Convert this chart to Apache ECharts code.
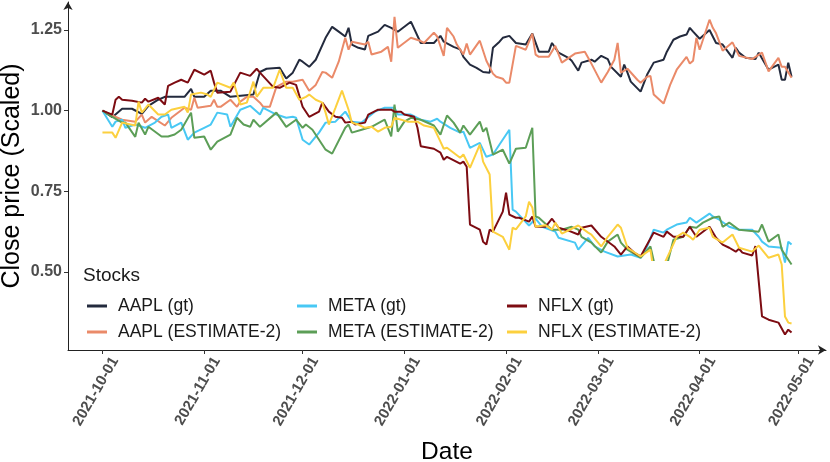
<!DOCTYPE html>
<html>
<head>
<meta charset="utf-8">
<script src="https://cdn.jsdelivr.net/npm/echarts@6/dist/echarts.min.js"></script>
<style>html,body{margin:0;padding:0;background:#fff}#c{width:830px;height:462px}</style>
</head>
<body>
<div id="c"></div>
<script>
const xTicks = ['2021-10-01','2021-11-01','2021-12-01','2022-01-01','2022-02-01','2022-03-01','2022-04-01','2022-05-01'];
const yTicks = [0.50, 0.75, 1.00, 1.25];
const seriesNames = ['AAPL (gt)','AAPL (ESTIMATE-2)','META (gt)','META (ESTIMATE-2)','NFLX (gt)','NFLX (ESTIMATE-2)'];

const aaplGt = [
['2021-10-01',1.000],['2021-10-04',0.980],['2021-10-07',1.006],['2021-10-10',1.006],['2021-10-13',0.990],['2021-10-15',1.015],
['2021-10-18',1.034],['2021-10-20',1.043],['2021-10-26',1.043],['2021-10-28',1.068],['2021-10-29',1.043],['2021-11-01',1.043],
['2021-11-03',1.062],['2021-11-06',1.062],['2021-11-09',1.043],['2021-11-16',1.050],['2021-11-18',1.120],['2021-11-20',1.130],
['2021-11-24',1.133],['2021-11-26',1.100],['2021-11-28',1.118],['2021-11-30',1.158],['2021-12-01',1.152],['2021-12-03',1.136],
['2021-12-05',1.158],['2021-12-08',1.226],['2021-12-10',1.260],['2021-12-12',1.245],['2021-12-14',1.230],['2021-12-15',1.257],
['2021-12-16',1.205],['2021-12-18',1.195],['2021-12-20',1.190],['2021-12-21',1.232],['2021-12-24',1.245],['2021-12-26',1.266],
['2021-12-28',1.257],['2021-12-30',1.245],['2022-01-03',1.276],['2022-01-06',1.210],['2022-01-10',1.210],['2022-01-12',1.232],
['2022-01-13',1.214],['2022-01-16',1.198],['2022-01-18',1.190],['2022-01-19',1.167],['2022-01-21',1.143],['2022-01-23',1.133],
['2022-01-25',1.120],['2022-01-27',1.118],['2022-01-28',1.195],['2022-01-30',1.214],['2022-01-31',1.226],['2022-02-02',1.232],
['2022-02-04',1.210],['2022-02-07',1.205],['2022-02-09',1.239],['2022-02-11',1.183],['2022-02-14',1.183],['2022-02-15',1.210],
['2022-02-17',1.180],['2022-02-20',1.164],['2022-02-21',1.155],['2022-02-23',1.124],['2022-02-24',1.149],['2022-02-27',1.158],
['2022-02-28',1.152],['2022-03-02',1.170],['2022-03-04',1.160],['2022-03-05',1.136],['2022-03-08',1.105],['2022-03-09',1.143],
['2022-03-10',1.118],['2022-03-11',1.090],['2022-03-14',1.059],['2022-03-16',1.112],['2022-03-18',1.149],['2022-03-21',1.158],
['2022-03-22',1.183],['2022-03-24',1.220],['2022-03-26',1.230],['2022-03-28',1.236],['2022-03-29',1.257],['2022-03-30',1.245],
['2022-04-01',1.223],['2022-04-04',1.250],['2022-04-06',1.210],['2022-04-08',1.205],['2022-04-11',1.164],['2022-04-12',1.195],
['2022-04-13',1.180],['2022-04-15',1.164],['2022-04-18',1.160],['2022-04-19',1.180],['2022-04-22',1.127],['2022-04-25',1.143],
['2022-04-26',1.096],['2022-04-27',1.096],['2022-04-28',1.149],['2022-04-29',1.105]
];

const aaplEst = [
['2021-10-01',1.000],['2021-10-04',0.985],['2021-10-07',0.972],['2021-10-11',0.966],['2021-10-13',0.988],['2021-10-14',0.963],
['2021-10-16',0.981],['2021-10-20',0.954],['2021-10-22',0.978],['2021-10-26',1.009],['2021-10-28',1.003],['2021-10-29',1.040],
['2021-10-30',1.009],['2021-11-01',1.012],['2021-11-03',1.015],['2021-11-04',1.034],['2021-11-05',1.012],['2021-11-06',1.012],
['2021-11-09',1.034],['2021-11-11',1.012],['2021-11-12',1.028],['2021-11-14',1.043],['2021-11-16',1.043],['2021-11-18',1.025],
['2021-11-19',1.012],['2021-11-21',1.012],['2021-11-23',1.074],['2021-11-26',1.090],['2021-11-28',1.090],['2021-12-01',1.096],
['2021-12-03',1.062],['2021-12-05',1.080],['2021-12-07',1.120],['2021-12-08',1.118],['2021-12-10',1.102],['2021-12-12',1.152],
['2021-12-14',1.226],['2021-12-15',1.189],['2021-12-16',1.214],['2021-12-20',1.205],['2021-12-21',1.214],['2021-12-22',1.174],
['2021-12-25',1.183],['2021-12-27',1.198],['2021-12-28',1.152],['2021-12-29',1.291],['2021-12-30',1.195],['2022-01-03',1.226],
['2022-01-06',1.216],['2022-01-07',1.210],['2022-01-10',1.242],['2022-01-11',1.230],['2022-01-13',1.170],['2022-01-14',1.257],
['2022-01-16',1.230],['2022-01-17',1.205],['2022-01-19',1.174],['2022-01-20',1.208],['2022-01-21',1.174],['2022-01-24',1.217],
['2022-01-26',1.155],['2022-01-28',1.115],['2022-01-29',1.105],['2022-01-31',1.099],['2022-02-01',1.087],['2022-02-02',1.087],
['2022-02-04',1.201],['2022-02-07',1.189],['2022-02-09',1.239],['2022-02-10',1.174],['2022-02-11',1.167],['2022-02-14',1.167],
['2022-02-16',1.201],['2022-02-18',1.149],['2022-02-22',1.177],['2022-02-25',1.183],['2022-02-27',1.146],['2022-03-02',1.087],
['2022-03-04',1.120],['2022-03-06',1.158],['2022-03-07',1.210],['2022-03-08',1.118],['2022-03-10',1.130],['2022-03-13',1.096],
['2022-03-14',1.087],['2022-03-16',1.105],['2022-03-17',1.108],['2022-03-18',1.050],['2022-03-21',1.022],['2022-03-23',1.080],
['2022-03-25',1.127],['2022-03-28',1.167],['2022-03-29',1.146],['2022-03-30',1.155],['2022-03-31',1.226],['2022-04-01',1.189],
['2022-04-04',1.282],['2022-04-05',1.257],['2022-04-06',1.240],['2022-04-08',1.186],['2022-04-11',1.212],['2022-04-13',1.170],
['2022-04-17',1.160],['2022-04-20',1.180],['2022-04-22',1.122],['2022-04-25',1.164],['2022-04-26',1.136],['2022-04-27',1.136],
['2022-04-29',1.102]
];

const metaGt = [
['2021-10-01',1.000],['2021-10-04',0.950],['2021-10-05',0.966],['2021-10-07',0.972],['2021-10-08',0.947],['2021-10-11',0.957],
['2021-10-14',0.947],['2021-10-17',0.963],['2021-10-19',0.981],['2021-10-21',0.988],['2021-10-22',0.947],['2021-10-25',0.963],
['2021-10-27',0.910],['2021-10-29',0.932],['2021-11-01',0.947],['2021-11-03',0.957],['2021-11-05',0.994],['2021-11-08',0.988],
['2021-11-09',0.950],['2021-11-12',1.003],['2021-11-15',1.015],['2021-11-18',0.988],['2021-11-19',1.009],['2021-11-23',0.988],
['2021-11-26',0.978],['2021-11-28',0.981],['2021-11-29',0.978],['2021-12-01',0.910],['2021-12-03',0.895],['2021-12-06',0.932],
['2021-12-08',0.963],['2021-12-11',0.966],['2021-12-14',0.997],['2021-12-16',0.966],['2021-12-19',0.963],['2021-12-20',0.972],
['2021-12-23',0.997],['2021-12-26',1.009],['2021-12-29',1.009],['2021-12-30',0.988],['2022-01-03',0.988],['2022-01-06',0.972],
['2022-01-09',0.966],['2022-01-11',0.975],['2022-01-12',0.966],['2022-01-15',0.947],['2022-01-18',0.932],['2022-01-19',0.935],
['2022-01-21',0.885],['2022-01-24',0.900],['2022-01-26',0.857],['2022-01-28',0.864],['2022-01-30',0.895],['2022-02-02',0.941],
['2022-02-03',0.693],['2022-02-04',0.687],['2022-02-08',0.644],['2022-02-10',0.665],['2022-02-12',0.640],['2022-02-16',0.625],
['2022-02-17',0.606],['2022-02-22',0.591],['2022-02-23',0.569],['2022-02-26',0.606],['2022-02-28',0.579],['2022-03-03',0.563],
['2022-03-07',0.548],['2022-03-11',0.554],['2022-03-14',0.544],['2022-03-16',0.579],['2022-03-18',0.631],['2022-03-21',0.622],
['2022-03-22',0.631],['2022-03-25',0.647],['2022-03-28',0.653],['2022-03-29',0.668],['2022-03-31',0.653],['2022-04-04',0.681],
['2022-04-05',0.672],['2022-04-07',0.662],['2022-04-10',0.640],['2022-04-13',0.631],['2022-04-17',0.631],['2022-04-19',0.609],
['2022-04-20',0.594],['2022-04-22',0.579],['2022-04-26',0.575],['2022-04-27',0.529],['2022-04-28',0.594],['2022-04-29',0.585]
];

const metaEst = [
['2021-10-01',1.000],['2021-10-04',0.981],['2021-10-07',0.963],['2021-10-08',0.963],['2021-10-11',0.919],['2021-10-12',0.963],
['2021-10-14',0.926],['2021-10-15',0.950],['2021-10-19',0.920],['2021-10-21',0.920],['2021-10-23',0.926],['2021-10-25',0.941],
['2021-10-28',0.994],['2021-10-29',0.916],['2021-11-01',0.920],['2021-11-03',0.879],['2021-11-05',0.904],['2021-11-09',0.926],
['2021-11-11',0.978],['2021-11-13',0.957],['2021-11-15',0.950],['2021-11-16',0.972],['2021-11-18',0.950],['2021-11-23',0.994],
['2021-11-26',0.950],['2021-11-29',0.972],['2021-12-01',0.947],['2021-12-02',0.957],['2021-12-04',0.941],['2021-12-08',0.879],
['2021-12-10',0.867],['2021-12-14',0.947],['2021-12-15',0.957],['2021-12-16',0.932],['2021-12-19',0.941],['2021-12-22',0.950],
['2021-12-26',0.972],['2021-12-28',0.920],['2021-12-29',1.019],['2021-12-30',0.935],['2022-01-01',0.966],['2022-01-03',0.978],
['2022-01-06',0.972],['2022-01-10',0.954],['2022-01-12',0.926],['2022-01-14',0.985],['2022-01-16',0.963],['2022-01-18',0.932],
['2022-01-19',0.954],['2022-01-21',0.926],['2022-01-24',0.966],['2022-01-25',0.935],['2022-01-26',0.947],['2022-01-28',0.864],
['2022-01-31',0.879],['2022-02-02',0.836],['2022-02-04',0.882],['2022-02-07',0.885],['2022-02-09',0.947],['2022-02-10',0.672],
['2022-02-11',0.668],['2022-02-14',0.640],['2022-02-15',0.631],['2022-02-18',0.631],['2022-02-21',0.640],['2022-02-23',0.631],
['2022-02-24',0.609],['2022-02-27',0.591],['2022-03-02',0.560],['2022-03-04',0.594],['2022-03-07',0.616],['2022-03-08',0.591],
['2022-03-10',0.569],['2022-03-14',0.544],['2022-03-17',0.579],['2022-03-19',0.490],['2022-03-22',0.520],['2022-03-24',0.600],
['2022-03-27',0.609],['2022-03-29',0.640],['2022-03-31',0.637],['2022-04-02',0.653],['2022-04-05',0.668],['2022-04-07',0.672],
['2022-04-08',0.640],['2022-04-10',0.653],['2022-04-13',0.631],['2022-04-19',0.625],['2022-04-20',0.647],['2022-04-22',0.594],
['2022-04-25',0.616],['2022-04-26',0.569],['2022-04-29',0.523]
];

const nflxGt = [
['2021-10-01',1.000],['2021-10-04',0.988],['2021-10-05',1.034],['2021-10-06',1.043],['2021-10-07',1.034],['2021-10-10',1.031],
['2021-10-13',1.025],['2021-10-14',1.037],['2021-10-15',1.028],['2021-10-18',1.040],['2021-10-20',1.019],['2021-10-21',1.077],
['2021-10-23',1.087],['2021-10-25',1.096],['2021-10-27',1.087],['2021-10-29',1.127],['2021-11-01',1.112],['2021-11-03',1.124],
['2021-11-04',1.087],['2021-11-05',1.056],['2021-11-09',1.059],['2021-11-12',1.118],['2021-11-15',1.108],['2021-11-17',1.130],
['2021-11-18',1.118],['2021-11-22',1.074],['2021-11-24',1.071],['2021-11-27',1.087],['2021-11-29',1.080],['2021-12-01',1.012],
['2021-12-03',0.981],['2021-12-06',0.997],['2021-12-07',1.025],['2021-12-09',0.997],['2021-12-11',0.981],['2021-12-13',0.978],
['2021-12-14',0.963],['2021-12-16',0.966],['2021-12-17',0.957],['2021-12-20',0.963],['2021-12-21',0.988],['2021-12-24',1.003],
['2021-12-28',1.003],['2021-12-29',0.997],['2021-12-31',0.997],['2022-01-01',0.988],['2022-01-04',0.981],['2022-01-05',0.947],
['2022-01-06',0.890],['2022-01-10',0.882],['2022-01-12',0.870],['2022-01-13',0.848],['2022-01-14',0.857],['2022-01-18',0.836],
['2022-01-19',0.842],['2022-01-20',0.826],['2022-01-21',0.647],['2022-01-24',0.631],['2022-01-25',0.594],['2022-01-26',0.585],
['2022-01-27',0.631],['2022-01-28',0.625],['2022-01-31',0.687],['2022-02-01',0.746],['2022-02-02',0.678],['2022-02-04',0.668],
['2022-02-05',0.668],['2022-02-08',0.656],['2022-02-09',0.672],['2022-02-10',0.640],['2022-02-13',0.640],['2022-02-15',0.665],
['2022-02-17',0.637],['2022-02-20',0.628],['2022-02-23',0.616],['2022-02-24',0.637],['2022-02-27',0.644],['2022-03-02',0.609],
['2022-03-06',0.579],['2022-03-08',0.554],['2022-03-10',0.579],['2022-03-12',0.560],['2022-03-14',0.548],['2022-03-18',0.622],
['2022-03-21',0.609],['2022-03-22',0.625],['2022-03-24',0.609],['2022-03-27',0.609],['2022-03-29',0.640],['2022-03-31',0.609],
['2022-04-04',0.640],['2022-04-06',0.606],['2022-04-08',0.585],['2022-04-10',0.575],['2022-04-12',0.563],['2022-04-13',0.572],
['2022-04-14',0.560],['2022-04-17',0.551],['2022-04-18',0.580],['2022-04-20',0.362],['2022-04-22',0.352],['2022-04-25',0.343],
['2022-04-27',0.306],['2022-04-28',0.321],['2022-04-29',0.312]
];

const nflxEst = [
['2021-10-01',0.932],['2021-10-04',0.932],['2021-10-05',0.916],['2021-10-07',0.963],['2021-10-11',0.954],['2021-10-12',1.028],
['2021-10-13',0.994],['2021-10-15',1.019],['2021-10-18',0.988],['2021-10-20',0.988],['2021-10-22',1.003],['2021-10-26',1.012],
['2021-10-27',0.994],['2021-10-28',1.050],['2021-10-31',1.056],['2021-11-02',1.050],['2021-11-03',1.043],['2021-11-05',1.087],
['2021-11-09',1.071],['2021-11-10',1.087],['2021-11-12',1.019],['2021-11-14',1.025],['2021-11-16',1.090],['2021-11-17',1.043],
['2021-11-19',1.071],['2021-11-22',1.071],['2021-11-24',1.127],['2021-11-26',1.071],['2021-11-28',1.071],['2021-11-30',1.034],
['2021-12-02',1.043],['2021-12-03',1.050],['2021-12-05',1.034],['2021-12-07',1.025],['2021-12-08',0.994],['2021-12-09',0.957],
['2021-12-11',1.009],['2021-12-13',1.062],['2021-12-15',1.003],['2021-12-16',0.963],['2021-12-18',0.957],['2021-12-20',0.947],
['2021-12-22',0.950],['2021-12-24',0.935],['2021-12-26',0.947],['2021-12-28',0.950],['2021-12-29',0.978],['2022-01-02',0.966],
['2022-01-05',0.966],['2022-01-07',0.954],['2022-01-10',0.947],['2022-01-12',0.904],['2022-01-13',0.882],['2022-01-14',0.885],
['2022-01-18',0.854],['2022-01-19',0.864],['2022-01-21',0.823],['2022-01-24',0.895],['2022-01-25',0.842],['2022-01-27',0.802],
['2022-01-28',0.625],['2022-01-31',0.609],['2022-02-02',0.569],['2022-02-03',0.637],['2022-02-04',0.632],['2022-02-07',0.672],
['2022-02-08',0.718],['2022-02-09',0.700],['2022-02-10',0.640],['2022-02-13',0.645],['2022-02-15',0.631],['2022-02-16',0.653],
['2022-02-18',0.619],['2022-02-21',0.634],['2022-02-23',0.644],['2022-02-26',0.622],['2022-02-27',0.616],['2022-03-02',0.579],
['2022-03-04',0.609],['2022-03-07',0.647],['2022-03-08',0.637],['2022-03-10',0.575],['2022-03-14',0.548],['2022-03-17',0.569],
['2022-03-18',0.500],['2022-03-20',0.490],['2022-03-21',0.520],['2022-03-25',0.609],['2022-03-27',0.622],['2022-03-29',0.609],
['2022-03-30',0.600],['2022-04-01',0.631],['2022-04-04',0.637],['2022-04-05',0.609],['2022-04-08',0.591],['2022-04-11',0.616],
['2022-04-13',0.575],['2022-04-17',0.563],['2022-04-19',0.582],['2022-04-22',0.544],['2022-04-25',0.554],['2022-04-26',0.523],
['2022-04-27',0.362],['2022-04-28',0.343],['2022-04-29',0.340]
];

const seriesData = [aaplGt, aaplEst, metaGt, metaEst, nflxGt, nflxEst];
const colors = ['#232a3d','#ea8a69','#48c8f4','#5c9e57','#7d0c12','#fcd03e'];

function ts(s){ const p = s.split('-').map(Number); return new Date(p[0], p[1]-1, p[2]).getTime(); }
function fmt(v){ const d=new Date(v); const m=d.getMonth()+1, dd=d.getDate(); return d.getFullYear()+'-'+(m<10?'0':'')+m+'-'+(dd<10?'0':'')+dd; }
const DAY = 86400000;
const FONT = '"Liberation Sans", Arial, sans-serif';

const chart = echarts.init(document.getElementById('c'), null, {renderer:'canvas'});
const legendCommon = {
  orient:'vertical', top:296, padding:0, itemWidth:20, itemHeight:3, itemGap:6, icon:'rect', z:12,
  textStyle:{fontFamily:FONT, fontSize:17.5, color:'#1a1a1a', lineHeight:20, padding:[0,0,0,6]},
  selectedMode:false
};
chart.setOption({
  animation:false,
  backgroundColor:'#fff',
  color: colors,
  grid:{left:68, right:4, top:2, bottom:112, containLabel:false, outerBoundsMode:'none'},
  title:{text:'Stocks', left:83, top:266, padding:0, z:12, textStyle:{fontFamily:FONT, fontSize:19, fontWeight:'normal', color:'#1a1a1a'}},
  graphic:[{type:'rect', z:10, shape:{x:74, y:261, width:642, height:85}, style:{fill:'#fff'}, silent:true}],
  legend:[
    Object.assign({left:87, data:[seriesNames[0], seriesNames[1]]}, legendCommon),
    Object.assign({left:297, data:[seriesNames[2], seriesNames[3]]}, legendCommon),
    Object.assign({left:507, data:[seriesNames[4], seriesNames[5]]}, legendCommon)
  ],
  xAxis:{
    type:'value',
    min: ts('2021-09-20') + DAY/2,
    max: ts('2022-05-09') + DAY/2,
    name:'Date', nameLocation:'middle', nameGap:90, nameMoveOverlap:false,
    nameTextStyle:{fontFamily:FONT, fontSize:24.5, color:'#000'},
    axisLine:{show:true, onZero:false, symbol:['none','arrow'], symbolSize:[7,8], lineStyle:{color:'#222', width:1}},
    axisTick:{show:true, customValues: xTicks.map(ts), length:4, lineStyle:{color:'#333'}},
    axisLabel:{customValues: xTicks.map(ts), rotate:60, margin:1, align:'right', verticalAlign:'top', padding:[7,0,0,0],
      fontFamily:FONT, fontSize:15, fontWeight:'bold', color:'#4d4d4d',
      formatter:function(v){ return fmt(v); }},
    splitLine:{show:false}
  },
  yAxis:{
    type:'value', min:0.258, max:1.337,
    name:'Close price (Scaled)', nameLocation:'middle', nameGap:43, nameMoveOverlap:false,
    nameTextStyle:{fontFamily:FONT, fontSize:25, color:'#000'},
    axisLine:{show:true, onZero:false, symbol:['none','arrow'], symbolSize:[7,8], lineStyle:{color:'#222', width:1}},
    axisTick:{show:true, customValues:yTicks, length:4, lineStyle:{color:'#333'}},
    axisLabel:{customValues:yTicks, margin:6, fontFamily:FONT, fontSize:16, fontWeight:'bold', color:'#4d4d4d',
      formatter:function(v){ return v.toFixed(2); }},
    splitLine:{show:false}
  },
  series: seriesNames.map(function(n,i){
    return {name:n, type:'line', showSymbol:false, symbol:'none', z:2,
      lineStyle:{width:2, color:colors[i]}, itemStyle:{color:colors[i]},
      data: seriesData[i].map(function(p){ return [ts(p[0]), p[1]]; })};
  })
});
</script>
</body>
</html>
